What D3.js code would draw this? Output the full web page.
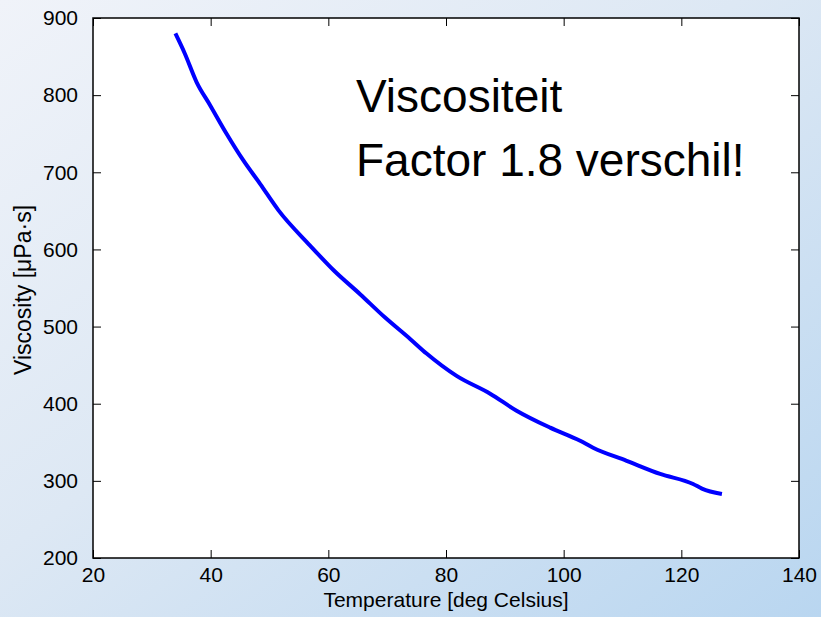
<!DOCTYPE html>
<html>
<head>
<meta charset="utf-8">
<script src="https://cdn.jsdelivr.net/npm/d3@7"></script>
<style>
  body { margin: 0; }
  svg { display: block; font-family: Arial, "Liberation Sans", sans-serif; }
</style>
</head>
<body>
<div id="chart"></div>
<script>
// values
var temperature = [34, 35.6, 37.6, 39.9, 42.7, 45.5, 48.4, 51.5, 56.9, 60.9, 65.4, 69.6, 73.9, 76.7, 81.8, 87.5, 92.0, 97.7, 102.8, 105.0, 110.7, 116.4, 122.0, 123.5, 126.9]
var viscosity = [880, 854, 817, 787, 750, 716, 685, 651, 605, 573, 542, 512, 484, 465, 436, 413, 391, 369, 352, 343, 326, 309, 296, 290, 283]
var xTicks = [20, 40, 60, 80, 100, 120, 140]
var yTicks = [200, 300, 400, 500, 600, 700, 800, 900]
var annotation = ["Viscositeit", "Factor 1.8 verschil!"]

var width = 821,
    height = 617,
    margin = {top: 18, right: 22, bottom: 60, left: 93}

var svg = d3.select("#chart").append("svg")
    .attr("width", width)
    .attr("height", height)

// slide background gradient
var grad = svg.append("defs").append("linearGradient")
    .attr("id", "bg")
    .attr("x1", "0%").attr("y1", "0%")
    .attr("x2", "100%").attr("y2", "100%")
grad.append("stop").attr("offset", "0%").attr("stop-color", "#f0f3f9")
grad.append("stop").attr("offset", "45%").attr("stop-color", "#dde8f4")
grad.append("stop").attr("offset", "100%").attr("stop-color", "#b9d6f0")

svg.append("rect")
    .attr("width", width)
    .attr("height", height)
    .attr("fill", "url(#bg)")

var x = d3.scaleLinear().domain([20, 140]).range([margin.left, width - margin.right])
var y = d3.scaleLinear().domain([200, 900]).range([height - margin.bottom + 1, margin.top])

// plot box
svg.append("rect")
    .attr("x", x(20))
    .attr("y", y(900))
    .attr("width", x(140) - x(20))
    .attr("height", y(200) - y(900))
    .attr("fill", "white")

// axes, ticks pointing inward on all four sides
function styleAxis(g) {
    g.selectAll(".domain").remove()
    g.selectAll(".tick line").attr("stroke", "#000").attr("stroke-width", 1)
    g.selectAll("text").attr("fill", "#000").style("font-size", "21px")
}

svg.append("g")
    .attr("transform", "translate(0," + y(200) + ")")
    .call(d3.axisBottom(x).tickValues(xTicks).tickSize(-8).tickPadding(9))
    .call(styleAxis)

svg.append("g")
    .attr("transform", "translate(0," + y(900) + ")")
    .call(d3.axisTop(x).tickValues(xTicks).tickSize(-8).tickFormat(""))
    .call(styleAxis)

svg.append("g")
    .attr("transform", "translate(" + x(20) + ",0)")
    .call(d3.axisLeft(y).tickValues(yTicks).tickSize(-8).tickPadding(15))
    .call(styleAxis)

svg.append("g")
    .attr("transform", "translate(" + x(140) + ",0)")
    .call(d3.axisRight(y).tickValues(yTicks).tickSize(-8).tickFormat(""))
    .call(styleAxis)

svg.append("rect")
    .attr("x", x(20))
    .attr("y", y(900))
    .attr("width", x(140) - x(20))
    .attr("height", y(200) - y(900))
    .attr("fill", "none")
    .attr("stroke", "#000")
    .attr("stroke-width", 1.5)

// curve
var line = d3.line()
    .x(function(d, i) { return x(temperature[i]) })
    .y(function(d) { return y(d) })
    .curve(d3.curveMonotoneX)

svg.append("path")
    .datum(viscosity)
    .attr("d", line)
    .attr("fill", "none")
    .attr("stroke", "#0000ff")
    .attr("stroke-width", 4)
    .attr("stroke-linejoin", "round")

// axis labels
svg.append("text")
    .attr("x", (x(20) + x(140)) / 2)
    .attr("y", 607)
    .attr("text-anchor", "middle")
    .style("font-size", "21px")
    .text("Temperature [deg Celsius]")

svg.append("text")
    .attr("transform", "translate(31," + 290 + ") rotate(-90)")
    .attr("text-anchor", "middle")
    .style("font-size", "23px")
    .text("Viscosity [\u03bcPa\u00b7s]")

// annotation
svg.selectAll(".note")
    .data(annotation)
    .enter().append("text")
    .attr("class", "note")
    .attr("x", 356)
    .attr("y", function(d, i) { return 112 + i * 64 })
    .style("font-size", "46px")
    .text(function(d) { return d })
</script>
</body>
</html>
